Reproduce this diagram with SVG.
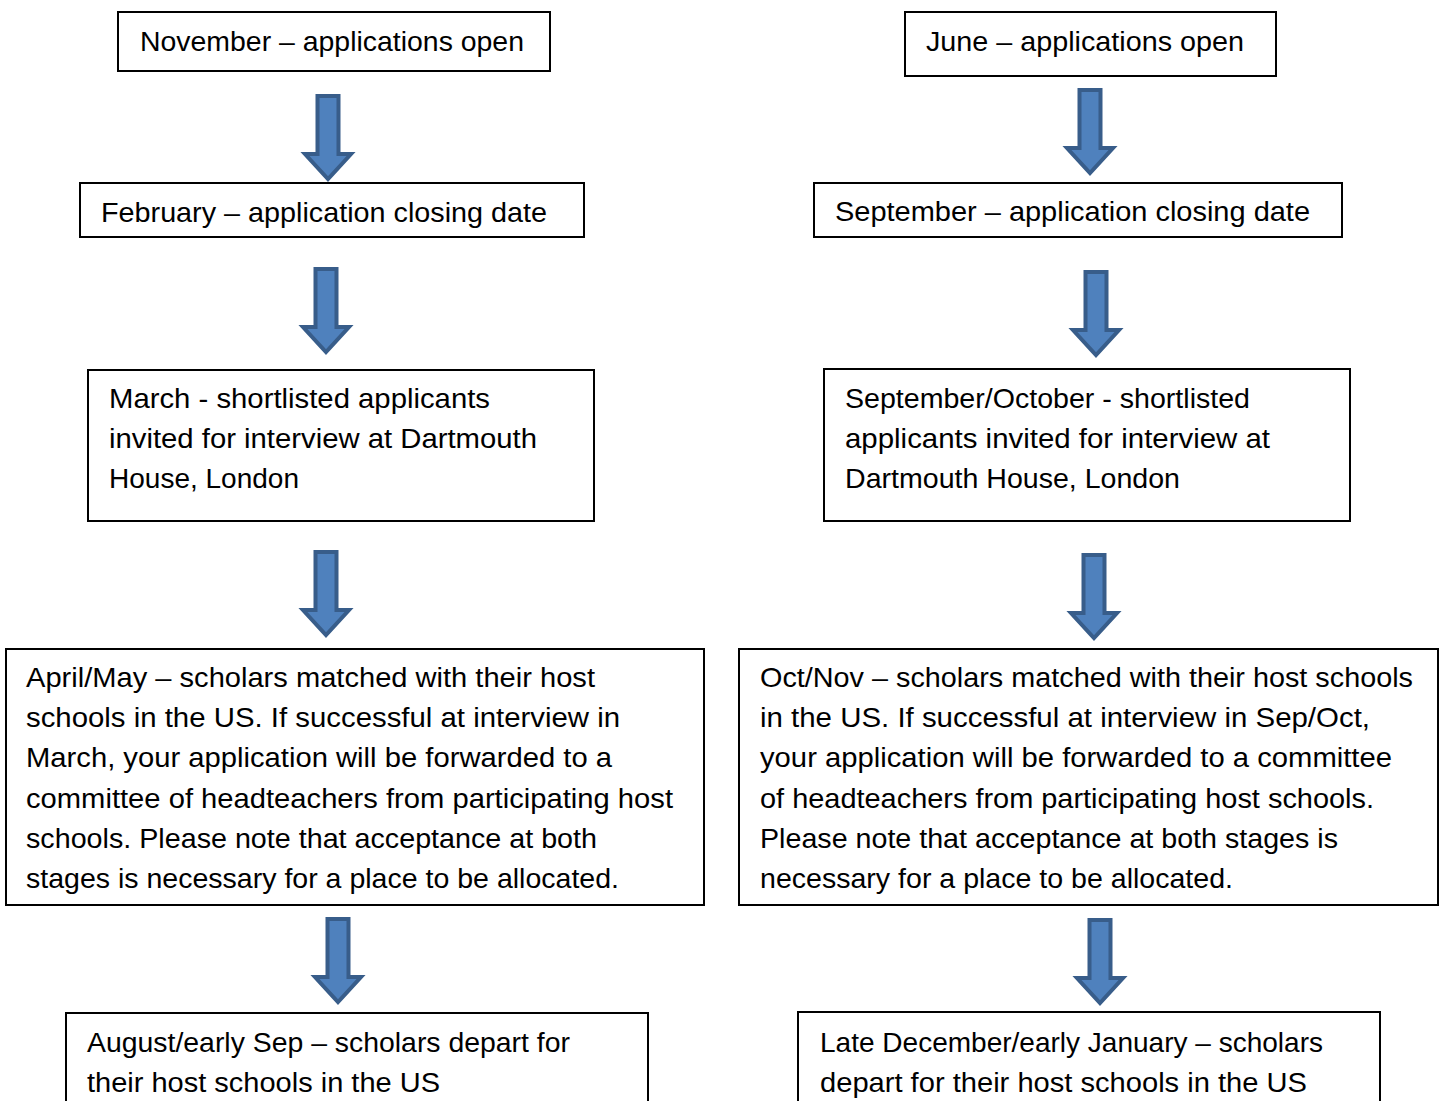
<svg xmlns="http://www.w3.org/2000/svg" width="1443" height="1101" viewBox="0 0 1443 1101">
<defs>
<style>
.box{fill:#fff;stroke:#000;stroke-width:2}
.t{font-family:"Liberation Sans",Arial,sans-serif;font-size:27.5px;fill:#000}
.arr{fill:#4F81BD;stroke:#385D8A;stroke-width:4;stroke-linejoin:miter}
</style>
<path id="a" d="M-10.5,0 H10.5 V58 H23 L0,83 L-23,58 H-10.5 Z"/>
</defs>
<rect width="1443" height="1101" fill="#fff"/>
<g id="connectors">
<use href="#a" class="arr" x="328" y="96"/>
<use href="#a" class="arr" x="326" y="269"/>
<use href="#a" class="arr" x="326" y="552"/>
<use href="#a" class="arr" x="338" y="919"/>
<use href="#a" class="arr" x="1090" y="90"/>
<use href="#a" class="arr" x="1096" y="272"/>
<use href="#a" class="arr" x="1094" y="555"/>
<use href="#a" class="arr" x="1100" y="920"/>
</g>
<g id="n-nov"><rect class="box" x="118" y="12" width="432" height="59"/><text class="t" x="140" y="51" textLength="384" lengthAdjust="spacingAndGlyphs">November – applications open</text></g>
<g id="n-feb"><rect class="box" x="80" y="183" width="504" height="54"/><text class="t" x="101" y="222" textLength="446" lengthAdjust="spacingAndGlyphs">February – application closing date</text></g>
<g id="n-mar"><rect class="box" x="88" y="370" width="506" height="151"/>
<text class="t" x="109" y="408" textLength="381" lengthAdjust="spacingAndGlyphs">March - shortlisted applicants</text>
<text class="t" x="109" y="448" textLength="428" lengthAdjust="spacingAndGlyphs">invited for interview at Dartmouth</text>
<text class="t" x="109" y="488" textLength="190" lengthAdjust="spacingAndGlyphs">House, London</text></g>
<g id="n-apr"><rect class="box" x="6" y="649" width="698" height="256"/>
<text class="t" x="26" y="687" textLength="569" lengthAdjust="spacingAndGlyphs">April/May – scholars matched with their host</text>
<text class="t" x="26" y="727" textLength="594" lengthAdjust="spacingAndGlyphs">schools in the US. If successful at interview in</text>
<text class="t" x="26" y="767" textLength="586" lengthAdjust="spacingAndGlyphs">March, your application will be forwarded to a</text>
<text class="t" x="26" y="808" textLength="647" lengthAdjust="spacingAndGlyphs">committee of headteachers from participating host</text>
<text class="t" x="26" y="848" textLength="571" lengthAdjust="spacingAndGlyphs">schools. Please note that acceptance at both</text>
<text class="t" x="26" y="888" textLength="593" lengthAdjust="spacingAndGlyphs">stages is necessary for a place to be allocated.</text></g>
<g id="n-aug"><rect class="box" x="66" y="1013" width="582" height="100"/>
<text class="t" x="87" y="1052" textLength="483" lengthAdjust="spacingAndGlyphs">August/early Sep – scholars depart for</text>
<text class="t" x="87" y="1092" textLength="353" lengthAdjust="spacingAndGlyphs">their host schools in the US</text></g>
<g id="n-jun"><rect class="box" x="905" y="12" width="371" height="64"/><text class="t" x="926" y="51" textLength="318" lengthAdjust="spacingAndGlyphs">June – applications open</text></g>
<g id="n-sep"><rect class="box" x="814" y="183" width="528" height="54"/><text class="t" x="835" y="221" textLength="475" lengthAdjust="spacingAndGlyphs">September – application closing date</text></g>
<g id="n-sepoct"><rect class="box" x="824" y="369" width="526" height="152"/>
<text class="t" x="845" y="408" textLength="405" lengthAdjust="spacingAndGlyphs">September/October - shortlisted</text>
<text class="t" x="845" y="448" textLength="425" lengthAdjust="spacingAndGlyphs">applicants invited for interview at</text>
<text class="t" x="845" y="488" textLength="335" lengthAdjust="spacingAndGlyphs">Dartmouth House, London</text></g>
<g id="n-oct"><rect class="box" x="739" y="649" width="699" height="256"/>
<text class="t" x="760" y="687" textLength="653" lengthAdjust="spacingAndGlyphs">Oct/Nov – scholars matched with their host schools</text>
<text class="t" x="760" y="727" textLength="610" lengthAdjust="spacingAndGlyphs">in the US. If successful at interview in Sep/Oct,</text>
<text class="t" x="760" y="767" textLength="632" lengthAdjust="spacingAndGlyphs">your application will be forwarded to a committee</text>
<text class="t" x="760" y="808" textLength="614" lengthAdjust="spacingAndGlyphs">of headteachers from participating host schools.</text>
<text class="t" x="760" y="848" textLength="578" lengthAdjust="spacingAndGlyphs">Please note that acceptance at both stages is</text>
<text class="t" x="760" y="888" textLength="473" lengthAdjust="spacingAndGlyphs">necessary for a place to be allocated.</text></g>
<g id="n-dec"><rect class="box" x="798" y="1012" width="582" height="100"/>
<text class="t" x="820" y="1052" textLength="503" lengthAdjust="spacingAndGlyphs">Late December/early January – scholars</text>
<text class="t" x="820" y="1092" textLength="487" lengthAdjust="spacingAndGlyphs">depart for their host schools in the US</text></g>
</svg>
